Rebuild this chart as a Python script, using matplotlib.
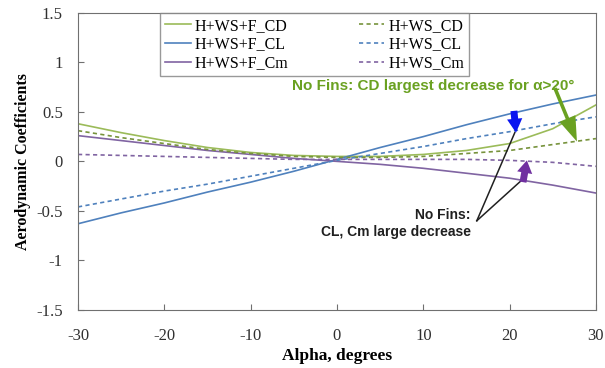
import matplotlib
matplotlib.use("Agg")
from matplotlib import pyplot as plt

alpha = [-30, -25, -20, -15, -10, -5, 0, 5, 10, 15, 20, 25, 30]
cd_fins = [0.38, 0.29, 0.21, 0.14, 0.09, 0.06, 0.05, 0.05, 0.07, 0.11, 0.18, 0.33, 0.57]
cd_nofins = [0.31, 0.24, 0.18, 0.12, 0.08, 0.05, 0.04, 0.04, 0.05, 0.08, 0.11, 0.17, 0.23]
cl_fins = [-0.63, -0.52, -0.42, -0.31, -0.21, -0.10, 0.02, 0.14, 0.25, 0.37, 0.48, 0.58, 0.67]
cl_nofins = [-0.46, -0.38, -0.30, -0.23, -0.15, -0.07, 0.01, 0.08, 0.15, 0.23, 0.30, 0.38, 0.45]
cm_fins = [0.26, 0.21, 0.16, 0.11, 0.07, 0.03, 0.0, -0.03, -0.07, -0.12, -0.17, -0.24, -0.32]
cm_nofins = [0.07, 0.06, 0.05, 0.04, 0.03, 0.02, 0.02, 0.02, 0.02, 0.02, 0.01, -0.01, -0.05]

green = '#9BBB59'
green_d = '#77933C'
blue = '#4F81BD'
purple = '#8064A2'

plt.rcParams['font.family'] = 'Liberation Serif'

fig = plt.figure(figsize=(6.05, 3.68), dpi=100)
ax = fig.add_axes([0.129, 0.158, 0.856, 0.807])

ax.plot(alpha, cd_fins, '-', color=green, lw=1.2, label='H+WS+F_CD')
ax.plot(alpha, cl_fins, '-', color=blue, lw=1.2, label='H+WS+F_CL')
ax.plot(alpha, cm_fins, '-', color=purple, lw=1.2, label='H+WS+F_Cm')
ax.plot(alpha, cd_nofins, '--', color=green_d, lw=1.2, dashes=(2.5, 2), label='H+WS_CD')
ax.plot(alpha, cl_nofins, '--', color=blue, lw=1.2, dashes=(2.5, 2), label='H+WS_CL')
ax.plot(alpha, cm_nofins, '--', color=purple, lw=1.2, dashes=(2.5, 2), label='H+WS_Cm')

ax.set_xlim(-30, 30)
ax.set_ylim(-1.5, 1.5)
ax.set_xticks(range(-30, 31, 10))
ax.set_yticks([-1.5, -1, -0.5, 0, 0.5, 1, 1.5])
ax.set_yticklabels(['-1.5', '-1', '-0.5', '0', '0.5', '1', '1.5'])
ax.set_xticklabels(['-30', '-20', '-10', '0', '10', '20', '30'])
ax.tick_params(direction='in', labelsize=12, length=4, colors='#707070', labelcolor='#303030')
ax.tick_params(axis='x', pad=13)
ax.tick_params(axis='y', pad=11)
for s in ax.spines.values():
    s.set_color('#707070')
ax.set_xlabel('Alpha, degrees', fontsize=12.5, fontweight='bold', labelpad=3)
ax.set_ylabel('Aerodynamic Coefficients', fontsize=11.5, fontweight='bold', labelpad=4)

leg = ax.legend(ncol=2, loc='upper center', bbox_to_anchor=(0.457, 1.0), fontsize=11.5,
                frameon=True, fancybox=False, edgecolor='#808080', handlelength=1.6,
                borderpad=0.3, labelspacing=0.17, columnspacing=4.4, handletextpad=0.25,
                borderaxespad=0)
leg.get_frame().set_linewidth(1.0)

# annotations
ax.text(-5.2, 0.76, 'No Fins: CD largest decrease for \u03b1>20\u00b0', color='#6AA121',
        fontsize=11, fontweight='bold', family='Liberation Sans', va='center')
ax.annotate('', xy=(27.8, 0.2), xytext=(25.25, 0.74),
            arrowprops=dict(arrowstyle='simple,head_width=0.62,head_length=0.9,tail_width=0.13',
                            color='#6AA121', lw=0, mutation_scale=20, shrinkA=0, shrinkB=0))
ax.annotate('', xy=(20.74, 0.29), xytext=(20.5, 0.51),
            arrowprops=dict(arrowstyle='simple,head_width=0.55,head_length=0.5,tail_width=0.25',
                            color='#0A14F0', lw=0, mutation_scale=20, shrinkA=0, shrinkB=0))
ax.annotate('', xy=(22.0, 0.01), xytext=(21.55, -0.21),
            arrowprops=dict(arrowstyle='simple,head_width=0.55,head_length=0.45,tail_width=0.25',
                            color='#7030A0', lw=0, mutation_scale=20, shrinkA=0, shrinkB=0))
ax.plot([16.2, 20.6], [-0.6, 0.29], color='#202020', lw=1.1)
ax.plot([16.2, 21.4], [-0.6, -0.19], color='#202020', lw=1.1)
ax.text(15.5, -0.545, 'No Fins:', fontsize=10, fontweight='bold', family='Liberation Sans',
        ha='right', va='center', color='#202020')
ax.text(15.5, -0.715, 'CL, Cm large decrease', fontsize=10, fontweight='bold',
        family='Liberation Sans', ha='right', va='center', color='#202020')

plt.savefig('out.png', dpi=100)
